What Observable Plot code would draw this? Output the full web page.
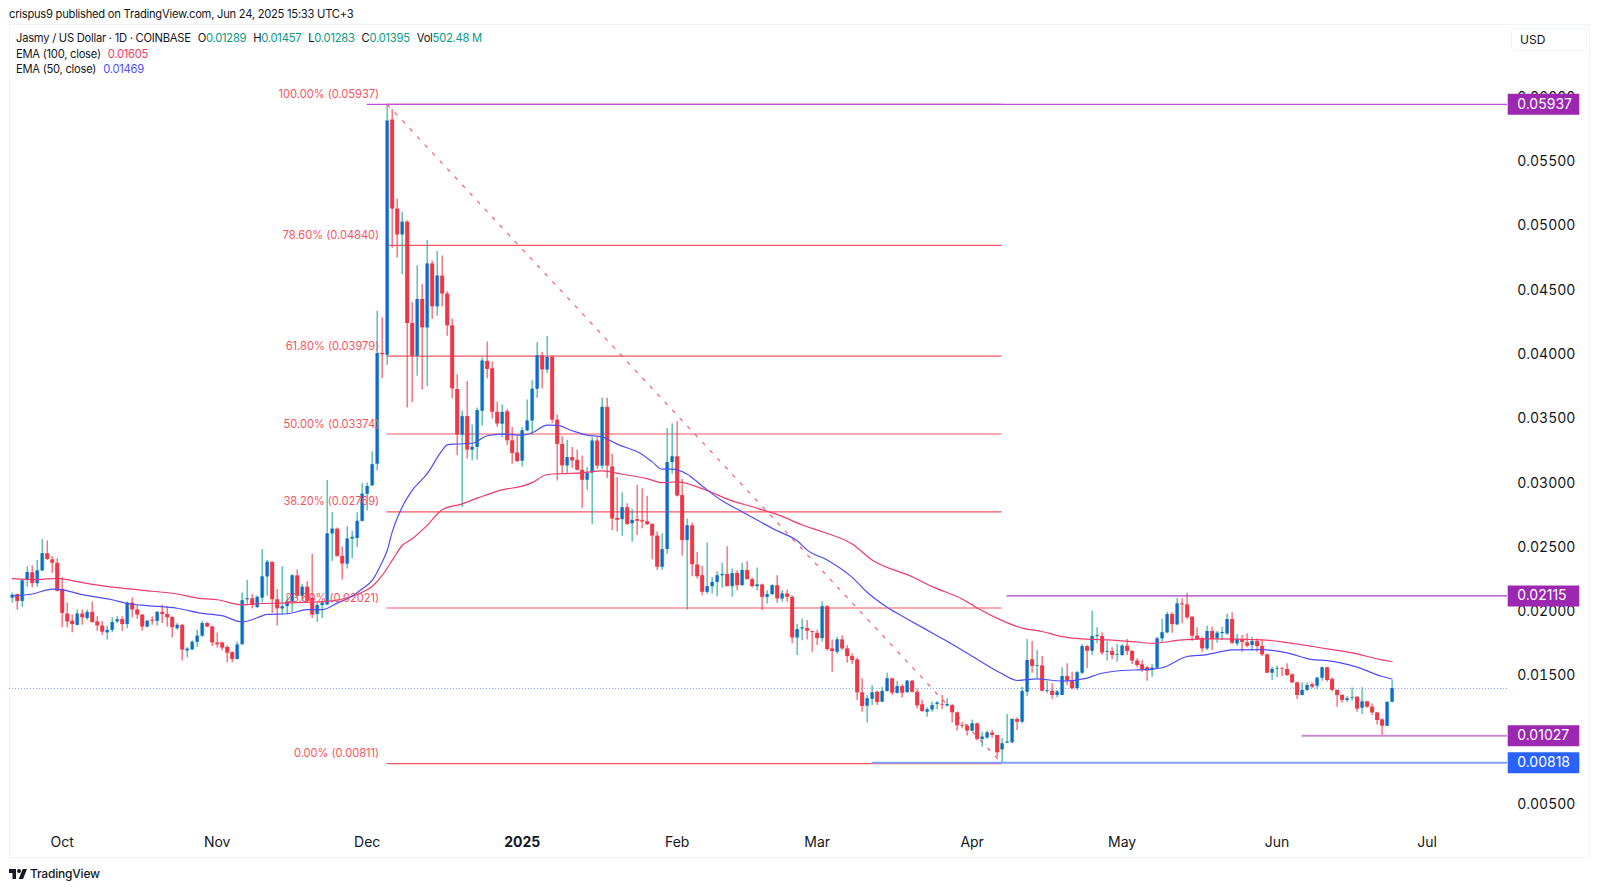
<!DOCTYPE html>
<html>
<head>
<meta charset="utf-8">
<script src="https://cdn.jsdelivr.net/npm/d3@7"></script>
<script src="https://cdn.jsdelivr.net/npm/@observablehq/plot@0.6"></script>
<style>
  html, body { margin: 0; background: #fff; }
  body { position: relative; width: 1600px; height: 890px; overflow: hidden; font-family: Inter, sans-serif; color: #131722; }
  .abs { position: absolute; white-space: nowrap; line-height: 16px; }
  .txt { font-size: 11.2px; letter-spacing: -0.25px; }
  #pane { position: absolute; left: 9px; top: 24px; width: 1581px; height: 834px; box-sizing: border-box; border: 1px solid #f0f3fa; }
  #usd { position: absolute; left: 1511px; top: 28px; width: 76px; height: 23px; box-sizing: border-box; border: 1px solid #f0f3fa; border-radius: 4px; font-size: 12px; line-height: 21px; padding-left: 8px; }
  #chart { position: absolute; left: 0; top: 0; }
  #chart svg { background: transparent; overflow: visible; }
  .up { color: #089981; }
  .s { margin-left: 7px; }
</style>
</head>
<body>
<div id="pane"></div>
<div id="chart"></div>
<div class="abs txt" style="left:9px;top:6px">crispus9 published on TradingView.com, Jun 24, 2025 15:33 UTC+3</div>
<div class="abs txt" style="left:16px;top:30px">Jasmy / US Dollar · 1D · COINBASE<span class="s">O<span class="up">0.01289</span></span><span class="s">H<span class="up">0.01457</span></span><span class="s">L<span class="up">0.01283</span></span><span class="s">C<span class="up">0.01395</span></span><span class="s">Vol<span class="up">502.48 M</span></span></div>
<div class="abs txt" style="left:16px;top:46px">EMA (100, close)<span class="s" style="color:#f23a6b">0.01605</span></div>
<div class="abs txt" style="left:16px;top:61px">EMA (50, close)<span class="s" style="color:#4d4dff">0.01469</span></div>
<div id="usd">USD</div>
<svg class="abs" style="left:9px;top:869px" width="18" height="10" viewBox="0 0 36 20"><path d="M14 0H0v8h7v12h7V0Zm14 20H19.5l7.9-20h8.6l-8 20Z" fill="#131722"/><circle cx="20" cy="4" r="4" fill="#131722"/></svg>
<div class="abs" style="left:30px;top:866px;font-size:12px;font-weight:500;letter-spacing:-0.2px">TradingView</div>

<script>
// prices below are in minticks of 0.00001
const MINTICK = 0.00001;
const firstDay = new Date(Date.UTC(2024, 8, 21));

const opens = [
  2098,2125,2072,2236,2295,2210,2310,2443,2395,2369,
  2165,1974,1918,1886,1974,1939,1987,1913,1881,1828,
  1847,1913,1931,1892,2059,2006,1966,1873,1926,1918,
  1987,1971,1947,1860,1886,1688,1696,1754,1802,1900,
  1873,1749,1749,1714,1674,1621,1735,2085,2093,2024,
  2098,2263,2377,2085,2014,2032,2067,2271,2112,2183,
  2098,1971,2040,2045,2597,2634,2422,2363,2557,2562,
  2695,2906,2971,3140,4000,3986,5815,5123,4922,5021,
  4233,3978,4420,4199,4696,4363,4602,4462,4215,3720,
  3366,3509,3249,3270,3551,3939,3881,3543,3451,3547,
  3321,3227,3163,3399,3475,3722,3982,3872,3969,3482,
  3293,3126,3191,3170,3092,3014,3071,3319,3124,3581,
  3118,2718,2708,2801,2676,2708,2700,2692,2671,2580,
  2338,2476,3152,3196,2895,2546,2660,2355,2272,2143,
  2187,2220,2272,2282,2187,2290,2194,2313,2241,2187,
  2200,2104,2125,2194,2091,2130,2104,1788,1858,1861,
  1837,1824,1783,2031,1703,1677,1773,1703,1643,1617,
  1361,1258,1312,1366,1289,1372,1470,1358,1410,1363,
  1452,1366,1268,1211,1229,1271,1271,1260,1263,1206,
  1108,1102,1064,1120,999,1011,1048,1030,918,970,
  973,1154,1133,1367,1618,1569,1571,1374,1374,1341,
  1341,1488,1452,1395,1514,1721,1685,1799,1799,1677,
  1683,1654,1652,1724,1683,1608,1579,1556,1535,1553,
  1781,1828,1970,1890,2053,2045,1949,1802,1781,1703,
  1838,1781,1822,1820,1931,1742,1776,1750,1729,1760,
  1721,1657,1514,1546,1551,1543,1501,1439,1341,1380,
  1424,1413,1475,1556,1465,1380,1341,1302,1318,1327,
  1242,1291,1250,1205,1151,1102,1289
];
const highs = [
  2138,2130,2244,2342,2350,2390,2554,2541,2422,2403,
  2257,2059,1966,2006,2006,2006,2067,1953,1918,1881,
  1945,1953,1953,2067,2098,2040,1971,1926,1953,1992,
  2045,2032,1953,1900,1892,1714,1767,1847,1918,1908,
  1881,1826,1754,1727,1680,1754,2138,2236,2125,2112,
  2475,2390,2377,2165,2342,2112,2279,2316,2205,2226,
  2438,2059,2067,3013,2761,2642,2496,2655,2615,2761,
  2989,2992,3236,4329,4277,5937,5898,5201,5099,5032,
  4397,4683,4537,4878,4719,4792,4758,4480,4267,3835,
  3551,3783,3444,3577,3965,4090,3933,3621,3599,3566,
  3425,3352,3425,3638,3787,4086,4010,4132,3982,3521,
  3352,3326,3269,3248,3202,3113,3347,3347,3651,3651,
  3215,3033,2916,2832,2786,2975,2949,2890,2676,2611,
  2598,3417,3451,3469,3020,2712,2681,2453,2345,2526,
  2259,2303,2368,2497,2324,2311,2368,2381,2254,2332,
  2207,2156,2202,2272,2156,2161,2117,1892,1936,1923,
  1840,1850,2070,2039,1773,1793,1806,1729,1664,1630,
  1470,1340,1418,1374,1405,1514,1475,1452,1426,1457,
  1457,1392,1302,1245,1289,1294,1340,1315,1271,1211,
  1133,1115,1151,1126,1055,1062,1069,1030,1004,1193,
  1159,1167,1405,1776,1760,1690,1644,1450,1431,1380,
  1556,1587,1522,1527,1737,1729,1996,1867,1828,1760,
  1711,1737,1737,1776,1690,1626,1613,1566,1582,1794,
  1931,1988,1983,2097,2092,2136,1955,1867,1794,1879,
  1872,1838,1872,1975,1983,1815,1807,1820,1794,1781,
  1773,1664,1561,1569,1556,1587,1509,1444,1439,1437,
  1437,1483,1561,1561,1478,1385,1346,1333,1398,1332,
  1400,1296,1275,1211,1159,1294,1457
];
const lows = [
  2059,2006,2024,2183,2178,2183,2305,2390,2289,2146,
  1868,1868,1828,1881,1886,1926,1902,1841,1807,1773,
  1828,1900,1841,1860,1945,1934,1841,1865,1886,1881,
  1900,1873,1788,1847,1608,1635,1688,1714,1794,1868,
  1722,1709,1688,1595,1595,1616,1735,2051,2014,2019,
  2059,2112,1979,1881,1966,1966,1987,2098,2072,2059,
  1939,1908,1939,2040,2382,2416,2236,2324,2403,2491,
  2689,2776,2966,3088,3803,3908,4818,4740,4615,3577,
  3616,3822,3716,3742,4264,4290,4363,4134,3647,3205,
  2802,3179,3166,3171,3434,3803,3491,3426,3347,3287,
  3139,3150,3118,3391,3365,3651,3724,3846,3456,3009,
  3061,3066,3105,3087,2793,2936,2669,3098,3098,3027,
  2624,2611,2578,2663,2533,2585,2637,2663,2396,2312,
  2312,2437,3061,2884,2424,2006,2264,2246,2117,2125,
  2130,2109,2176,2187,2104,2156,2194,2238,2176,2156,
  2000,2052,2117,2057,2065,2065,1742,1651,1767,1773,
  1677,1729,1755,1685,1522,1659,1690,1591,1581,1302,
  1211,1126,1263,1263,1289,1366,1340,1353,1322,1358,
  1358,1237,1211,1172,1211,1229,1229,1250,1126,1064,
  1082,1025,1056,986,939,1000,1010,861,811,970,
  965,1068,1121,1333,1514,1470,1367,1354,1310,1323,
  1341,1418,1385,1380,1504,1548,1652,1742,1652,1608,
  1618,1600,1644,1652,1582,1556,1522,1452,1483,1543,
  1755,1820,1825,1885,1898,1931,1760,1768,1677,1690,
  1690,1747,1768,1807,1737,1721,1677,1711,1685,1677,
  1644,1509,1457,1478,1488,1488,1431,1310,1336,1374,
  1393,1387,1452,1444,1367,1250,1281,1284,1297,1211,
  1193,1242,1185,1112,1029,1102,1283
];
const closes = [
  2120,2072,2231,2297,2210,2310,2443,2398,2369,2151,
  1979,1913,1892,1974,1945,1987,1908,1881,1833,1847,
  1908,1929,1892,2059,2006,1966,1873,1918,1918,1987,
  1971,1945,1868,1886,1693,1701,1754,1802,1900,1873,
  1749,1735,1709,1669,1621,1733,2077,2093,2040,2104,
  2263,2377,2085,2014,2030,2072,2271,2112,2183,2072,
  1966,2040,2059,2597,2634,2422,2363,2557,2570,2695,
  2906,2966,3135,4000,3990,5807,5123,4922,5021,4233,
  3978,4420,4199,4696,4363,4602,4462,4215,3725,3366,
  3509,3249,3270,3556,3941,3876,3543,3452,3542,3321,
  3222,3160,3399,3475,3722,3982,3872,3969,3482,3293,
  3126,3191,3165,3092,3014,3066,3319,3124,3581,3124,
  2713,2703,2801,2671,2702,2695,2690,2669,2580,2338,
  2474,3152,3196,2892,2546,2660,2358,2264,2143,2187,
  2220,2272,2282,2187,2288,2194,2313,2241,2187,2200,
  2104,2125,2194,2091,2130,2104,1788,1853,1866,1840,
  1830,1783,2031,1698,1682,1773,1703,1643,1612,1361,
  1255,1315,1361,1286,1372,1470,1358,1410,1358,1452,
  1366,1260,1216,1229,1263,1281,1266,1271,1206,1105,
  1102,1064,1120,999,1017,1050,1030,895,965,978,
  1154,1133,1372,1613,1566,1574,1374,1380,1341,1367,
  1488,1452,1393,1517,1721,1685,1799,1807,1670,1683,
  1652,1659,1724,1683,1608,1574,1543,1530,1553,1781,
  1828,1970,1892,2053,2045,1944,1802,1776,1703,1838,
  1776,1825,1830,1931,1747,1776,1753,1724,1760,1721,
  1657,1514,1543,1551,1546,1496,1439,1341,1380,1418,
  1406,1475,1556,1457,1380,1341,1302,1315,1323,1235,
  1291,1250,1205,1146,1102,1286,1395
];

// EMAs at these day numbers (0 = first candle)
const ema100Days = [0,5,9,10,16,22,28,33,37,41,46,50,54,60,63,68,70,72,74,76,78,80,83,86,90,93,98,102,104,107,110,114,118,122,127,130,133,138,144,148,154,158,162,168,172,180,184,190,193,198,202,206,210,214,219,224,228,234,240,250,255,263,268,274,276];
const ema100Values = [2250,2242,2252,2247,2205,2175,2151,2130,2098,2085,2045,2056,2059,2067,2072,2112,2144,2188,2274,2391,2507,2559,2663,2785,2831,2875,2940,2968,2996,3059,3066,3072,3087,3061,3027,2996,3001,2949,2854,2808,2733,2666,2614,2518,2394,2264,2187,2091,2021,1923,1864,1838,1799,1781,1773,1760,1747,1773,1781,1773,1752,1703,1672,1618,1605];
const ema50Days = [0,4,8,10,14,20,23,27,33,38,42,46,49,51,55,59,62,65,68,70,72,74,75,76,78,80,83,86,87,89,92,95,98,102,104,107,109,112,115,118,121,126,128,130,132,135,138,142,146,153,157,159,163,168,171,175,179,184,187,192,198,201,205,210,215,217,222,227,230,235,239,244,250,255,260,263,269,274,276];
const ema50Values = [2114,2130,2167,2162,2125,2085,2056,2040,2019,1979,1961,1913,1945,1971,1976,2008,2008,2059,2112,2170,2235,2378,2468,2611,2805,2935,3065,3246,3290,3296,3302,3360,3373,3365,3384,3443,3441,3399,3365,3352,3295,3215,3157,3100,3100,3061,2970,2854,2769,2621,2544,2471,2394,2259,2143,2026,1936,1827,1762,1646,1509,1457,1470,1452,1475,1504,1535,1543,1556,1644,1659,1695,1698,1672,1620,1612,1561,1488,1469];

const fibPercents = ["100.00%","78.60%","61.80%","50.00%","38.20%","23.60%","0.00%"];
const fibPrices = [0.05937,0.04840,0.03979,0.03374,0.02769,0.02021,0.00811];

const priceTicks = [0.005,0.015,0.02,0.025,0.03,0.035,0.04,0.045,0.05,0.055,0.06];
const timeLabels = ["Oct","Nov","Dec","Feb","Mar","Apr","May","Jun","Jul"];
const timeDates = ["2024-10-01","2024-11-01","2024-12-01","2025-02-01","2025-03-01","2025-04-01","2025-05-01","2025-06-01","2025-07-01"];

const tagPrices = [0.05937,0.02115,0.01027,0.00818];
const lineStarts = [71,199,258,172];  // day number where each level line starts
const lastPrice = 0.01395;

const day = (n) => d3.utcDay.offset(firstDay, n);

const candles = opens.map((o, i) => ({
  date: day(i),
  open: o * MINTICK,
  high: highs[i] * MINTICK,
  low: lows[i] * MINTICK,
  close: closes[i] * MINTICK
}));
const upCandles = candles.filter((d) => d.close >= d.open);
const downCandles = candles.filter((d) => d.close < d.open);

const ema100 = ema100Days.map((n, i) => ({ date: day(n), value: ema100Values[i] * MINTICK }));
const ema50 = ema50Days.map((n, i) => ({ date: day(n), value: ema50Values[i] * MINTICK }));
const fibs = fibPrices.map((p, i) => ({ price: p, text: `${fibPercents[i]} (${p.toFixed(5)})` }));
const tags = tagPrices.map((p, i) => ({ price: p, start: day(lineStarts[i]), text: p.toFixed(5) }));
const months = timeDates.map((d, i) => ({ date: new Date(d), text: timeLabels[i] }));

const peakDay = day(75);
const lowDay = day(198);
const RED = "#f23645";
const TEAL = "#26a69a";
const PURPLE = "#9c27b0";
const BLUE = "#2962ff";
const domainStart = new Date(Date.UTC(2024, 8, 20, 11));
const domainEnd = new Date(Date.UTC(2025, 6, 17, 2));

const plot = Plot.plot({
  width: 1600,
  height: 890,
  marginLeft: 9,
  marginRight: 93,
  marginTop: 24,
  marginBottom: 32,
  style: { fontFamily: "Inter, sans-serif", fontSize: "14px", color: "#131722", background: "transparent" },
  x: { type: "utc", domain: [domainStart, domainEnd], axis: null },
  y: { domain: [0.000731, 0.06558], axis: null },
  marks: [
    Plot.axisY({
      anchor: "right",
      ticks: priceTicks,
      tickFormat: d3.format(".5f"),
      tickSize: 0,
      tickPadding: 9.7,
      fontSize: 14,
      dy: 1,
      label: null
    }),
    Plot.text(months, { x: "date", text: "text", frameAnchor: "bottom", dy: -16, fontSize: 14, lineAnchor: "middle" }),
    Plot.text([new Date("2025-01-01")], { x: (d) => d, text: () => "2025", frameAnchor: "bottom", dy: -16, fontSize: 14, fontWeight: 700, lineAnchor: "middle" }),

    // fib levels + the dashed trend line
    Plot.ruleY(fibPrices, { x1: peakDay, x2: lowDay, y: (d) => d, stroke: RED, strokeWidth: 1.2, strokeOpacity: 0.85 }),
    Plot.link([0], {
      x1: () => peakDay, y1: () => fibPrices[0],
      x2: () => lowDay, y2: () => fibPrices[6],
      stroke: RED, strokeWidth: 1.2, strokeOpacity: 0.8, strokeDasharray: "4 7"
    }),

    // last price
    Plot.ruleY([lastPrice], { stroke: "#82a0ff", strokeWidth: 1, strokeDasharray: "1 2" }),

    // candles
    Plot.ruleX(downCandles, { x: "date", y1: "low", y2: "high", stroke: RED, strokeWidth: 1.2, strokeOpacity: 0.85 }),
    Plot.ruleX(upCandles, { x: "date", y1: "low", y2: "high", stroke: TEAL, strokeWidth: 1.2, strokeOpacity: 0.9 }),
    Plot.ruleX(downCandles, { x: "date", y1: "open", y2: "close", stroke: RED, strokeWidth: 4 }),
    Plot.ruleX(upCandles, { x: "date", y1: "open", y2: "close", stroke: TEAL, strokeWidth: 4, strokeOpacity: 0.75 }),
    Plot.ruleX(upCandles, { x: "date", y1: "open", y2: "close", stroke: "#1565d8", strokeWidth: 2.6 }),

    // EMAs
    Plot.line(ema100, { x: "date", y: "value", stroke: "#f23a6b", strokeWidth: 1.2, curve: "monotone-x" }),
    Plot.line(ema50, { x: "date", y: "value", stroke: "#4d4dff", strokeWidth: 1.2, curve: "monotone-x" }),

    Plot.text(fibs, { x: () => peakDay, y: "price", text: "text", textAnchor: "end", dx: -8, dy: -10, fill: "#f7525f", fontSize: 11.1 }),

    // level lines with tags on the price scale
    Plot.ruleY(tags.slice(0, 1), { x1: "start", x2: () => domainEnd, y: "price", stroke: "#c04fd6", strokeWidth: 1.2 }),
    Plot.ruleY(tags.slice(1, 2), { x1: "start", x2: () => domainEnd, y: "price", stroke: "#a040b8", strokeWidth: 1.2 }),
    Plot.ruleY(tags.slice(2, 3), { x1: "start", x2: () => domainEnd, y: "price", stroke: "#c78ad4", strokeWidth: 2 }),
    Plot.ruleY(tags.slice(3), { x1: "start", x2: () => domainEnd, y: "price", stroke: "#82a0ff", strokeWidth: 2 }),
    Plot.ruleY(tags.slice(0, 3), { y: "price", stroke: PURPLE, strokeWidth: 21, insetLeft: 1498.7, insetRight: -72.3 }),
    Plot.ruleY(tags.slice(3), { y: "price", stroke: BLUE, strokeWidth: 21, insetLeft: 1498.7, insetRight: -72.3 }),
    Plot.text(tags, { y: "price", text: "text", frameAnchor: "right", textAnchor: "start", dx: 9.7, fill: "white", fontSize: 14 })
  ]
});
document.querySelector("#chart").append(plot);
</script>
</body>
</html>
